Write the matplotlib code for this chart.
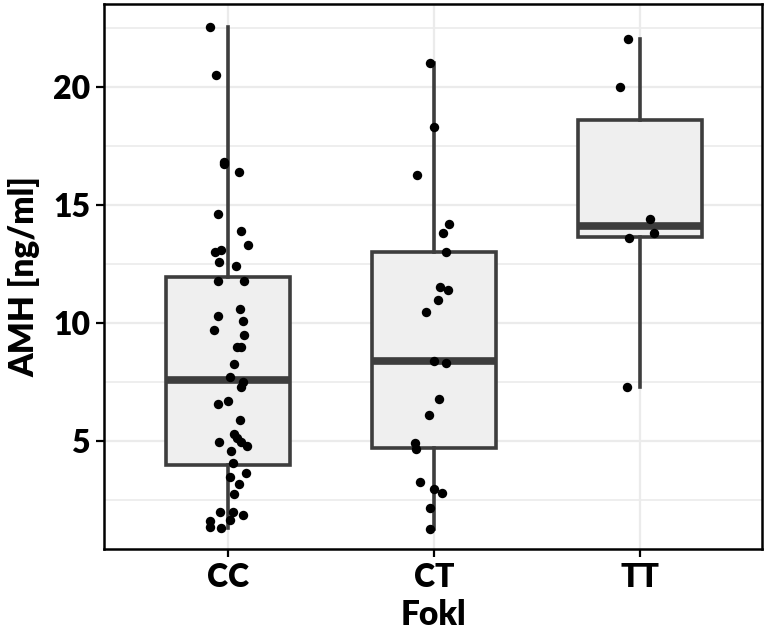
import matplotlib
matplotlib.use("Agg")
import matplotlib.pyplot as plt
import numpy as np

categories = ["CC", "CT", "TT"]

cc_values = [22.55, 20.52, 16.83, 16.74, 16.41, 14.62, 13.91, 13.31, 13.01, 13.12, 12.60, 12.42,
             11.79, 11.79, 10.59, 10.31, 10.08, 9.69, 9.49, 8.98, 8.98, 8.28,
             7.70, 7.49, 7.29, 6.57, 6.68, 5.88, 5.30, 5.14, 4.97, 4.79,
             4.97, 4.58, 4.08, 3.63, 3.49, 3.18, 2.77, 1.98, 1.98, 1.86,
             1.65, 1.62, 1.37, 1.33]
cc_jitter = [-0.085, -0.056, -0.020, -0.017, 0.052, -0.049, 0.065, 0.100, -0.062, -0.033, -0.044, 0.040,
             -0.048, 0.078, 0.059, -0.049, 0.076, -0.065, 0.081, 0.044, 0.065, 0.031,
             0.012, 0.076, 0.064, -0.046, 0.001, 0.057, 0.030, 0.044, 0.065, 0.093,
             -0.043, 0.018, 0.025, 0.089, 0.012, 0.056, 0.028, -0.036, 0.025, 0.076,
             0.012, -0.088, -0.088, -0.035]

ct_values = [21.03, 18.32, 16.30, 14.21, 13.80, 13.00, 11.51, 11.40, 10.99, 10.48,
             8.40, 8.29, 6.79, 6.09, 4.90, 4.67, 3.28, 2.97, 2.78, 2.17, 1.27]
ct_jitter = [-0.022, 0.000, -0.081, 0.071, 0.043, 0.056, 0.028, 0.067, 0.018, -0.040,
             -0.002, 0.060, 0.023, -0.023, -0.091, -0.088, -0.069, 0.000, 0.036, -0.022, -0.022]

tt_values = [22.03, 20.01, 14.41, 13.83, 13.59, 7.30]
tt_jitter = [-0.058, -0.098, 0.045, 0.068, -0.053, -0.064]

# box statistics
box_q1 = [4.00, 4.69, 13.67]
box_median = [7.60, 8.40, 14.13]
box_q3 = [11.97, 13.00, 18.62]
box_whislo = [1.33, 1.27, 7.30]
box_whishi = [22.55, 21.03, 22.03]

values = [cc_values, ct_values, tt_values]
jitters = [cc_jitter, ct_jitter, tt_jitter]

fig = plt.figure(figsize=(7.67, 6.35), dpi=100)
ax = fig.add_axes([0.1356, 0.1354, 0.858, 0.859])

positions = np.arange(1, len(categories) + 1)
stats = []
for i, cat in enumerate(categories):
    stats.append(dict(med=box_median[i], q1=box_q1[i], q3=box_q3[i],
                      whislo=box_whislo[i], whishi=box_whishi[i], fliers=[], label=cat))

edge = "#3d3d3d"
ax.bxp(stats, positions=positions, widths=0.6, patch_artist=True, showfliers=False,
       showcaps=False,
       boxprops=dict(facecolor="#efefef", edgecolor=edge, linewidth=2.6),
       medianprops=dict(color=edge, linewidth=5.5, solid_capstyle="butt"),
       whiskerprops=dict(color=edge, linewidth=2.6),
       zorder=2)

for i, (vals, jit) in enumerate(zip(values, jitters)):
    xs = positions[i] + np.array(jit)
    ax.scatter(xs, vals, s=46, color="black", zorder=3, linewidths=0)

ax.set_xlim(0.4, 3.59)
ax.set_ylim(0.42, 23.55)

ax.set_yticks([5, 10, 15, 20])
ax.set_yticks([2.5, 7.5, 12.5, 17.5, 22.5], minor=True)
ax.set_xticks(positions)
ax.set_xticklabels(categories)

ax.grid(True, which="major", color="#ebebeb", linewidth=1.6, zorder=0)
ax.grid(True, which="minor", axis="y", color="#ebebeb", linewidth=1.2, zorder=0)
ax.set_axisbelow(True)

for sp in ax.spines.values():
    sp.set_color("black")
    sp.set_linewidth(1.8)

font = "Lato"
weight = "heavy"
ax.tick_params(axis="both", which="major", length=6, width=1.6, color="black",
               labelsize=23, pad=4)
ax.tick_params(axis="y", which="minor", length=0)
for lab in ax.get_xticklabels() + ax.get_yticklabels():
    lab.set_fontfamily(font)
    lab.set_fontweight(weight)

ax.set_xlabel("Fokl", fontsize=24, fontweight=weight, family=font, labelpad=5)
ax.set_ylabel("AMH [ng/ml]", fontsize=24, fontweight=weight, family=font, labelpad=9)

fig.savefig("out.png", dpi=100)
